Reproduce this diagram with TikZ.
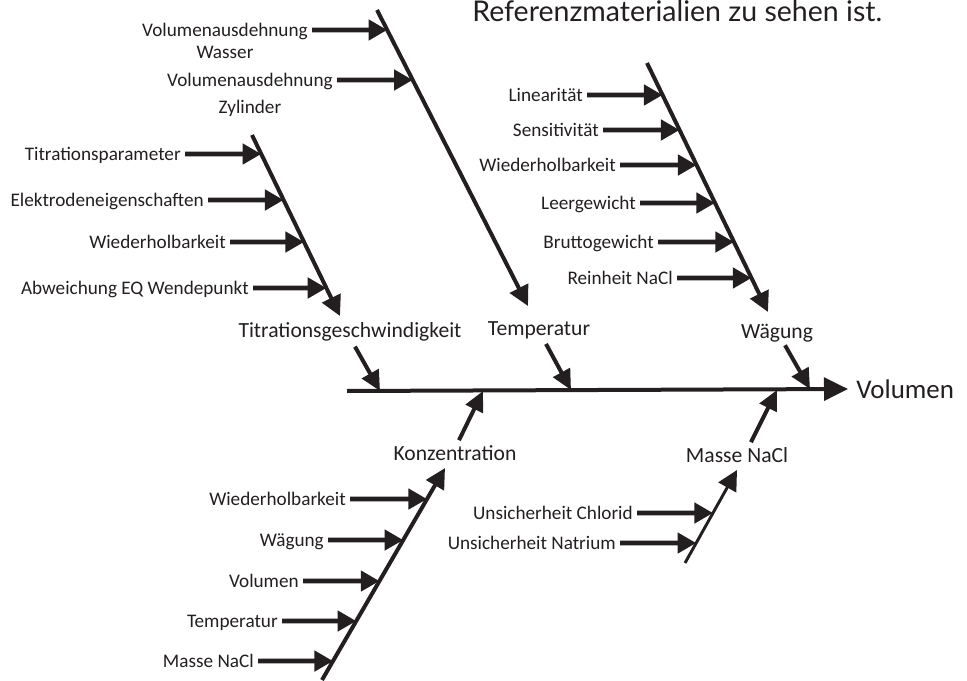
\documentclass[tikz,border=0pt]{standalone}
\usepackage{fontspec}
\setmainfont{Carlito}
\newfontfamily\notefont{Lato}
\usetikzlibrary{arrows.meta,positioning}
\definecolor{ink}{RGB}{35,31,32}

\begin{document}
\begin{tikzpicture}[x=0.75pt,y=-0.75pt,
    every node/.style={text=ink},
    cause/.style={anchor=east,font=\fontsize{14.4}{16}\selectfont,inner xsep=3pt,inner ysep=0pt,text height=13pt,text depth=3.2pt},
    sub/.style={anchor=north,font=\fontsize{14.4}{16}\selectfont,inner sep=0pt,text height=13pt,text depth=3.2pt},
    group/.style={font=\fontsize{16.2}{18}\selectfont,inner sep=0pt},
    feed/.style={draw=ink,line width=3.6pt,-{Triangle[length=14pt,width=15pt]}},
    bone/.style={draw=ink,line width=3pt,-{Triangle[length=15pt,width=15pt]}},
    link/.style={draw=ink,line width=3pt,-{Triangle[length=15pt,width=14pt]}}]
  \useasboundingbox (0,0) rectangle (967,681);

  % note text at the top
  \node[anchor=base west,font=\notefont\fontsize{21.4}{23}\selectfont,inner sep=0pt] (note) at (472,22) {Referenzmaterialien zu sehen ist.};

  % main spine
  \coordinate (sp0) at (347,391);
  \coordinate (sp1) at (848,389);
  \draw[draw=ink,line width=3pt,-{Triangle[length=18pt,width=17pt]}] (sp0) -- (sp1);
  \node[anchor=west,font=\fontsize{20.2}{22}\selectfont,inner sep=0pt,xshift=6pt] (vol) at (sp1) {Volumen};

  % where the groups meet the spine
  \coordinate (j1) at (380,391);
  \coordinate (j2) at (571,390);
  \coordinate (j3) at (810,389);
  \coordinate (j4) at (483,391);
  \coordinate (j5) at (777,390);

  % group labels
  \node[group] (titr) at (350,332) {Titrationsgeschwindigkeit};
  \node[group] (temp) at (539,330) {Temperatur};
  \node[group] (waeg) at (777,333) {Wägung};
  \node[group] (konz) at (455,453) {Konzentration};
  \node[group] (masse) at (737,455) {Masse NaCl};

  \draw[link] ([shift={(5,5)}]titr.south) -- (j1);
  \draw[link] ([shift={(7,5)}]temp.south) -- (j2);
  \draw[link] ([shift={(8,3)}]waeg.south) -- (j3);
  \draw[link] ([shift={(4,-5)}]konz.north) -- (j4);
  \draw[link] ([shift={(14,-5)}]masse.north) -- (j5);

  % bones
  \coordinate (b1s) at (252,135);  \coordinate (b1e) at (340,316);
  \coordinate (b2s) at (377,10);   \coordinate (b2e) at (528,306);
  \coordinate (b3s) at (647,63);   \coordinate (b3e) at (768,312);
  \coordinate (b4s) at (322,680);  \coordinate (b4e) at (445,468);
  \coordinate (b5s) at (685,563);  \coordinate (b5e) at (737,470);
  \draw[bone] (b1s) -- (b1e);
  \draw[bone] (b2s) -- (b2e);
  \draw[bone] (b3s) -- (b3e);
  \draw[bone] (b4s) -- (b4e);
  \draw[bone,line width=2.2pt] (b5s) -- (b5e);

  % Titrationsgeschwindigkeit
  \node[cause] (tpar) at (185,154) {Titrationsparameter};
  \node[cause] (elek) at (208,200) {Elektrodeneigenschaften};
  \node[cause] (wdh1) at (230,242) {Wiederholbarkeit};
  \node[cause] (abw) at (253,288) {Abweichung EQ Wendepunkt};
  \draw[feed] (tpar.east) -- (intersection of tpar.east--tpar.west and b1s--b1e);
  \draw[feed] (elek.east) -- (intersection of elek.east--elek.west and b1s--b1e);
  \draw[feed] (wdh1.east) -- (intersection of wdh1.east--wdh1.west and b1s--b1e);
  \draw[feed] (abw.east) -- (intersection of abw.east--abw.west and b1s--b1e);

  % Temperatur
  \node[cause] (vwas) at (312,30) {Volumenausdehnung};
  \node[sub] (wass) at (vwas.south) {Wasser};
  \node[cause] (vzyl) at (337,80) {Volumenausdehnung};
  \node[sub,yshift=-4pt] (zyl) at (vzyl.south) {Zylinder};
  \draw[feed] (vwas.east) -- (intersection of vwas.east--vwas.west and b2s--b2e);
  \draw[feed] (vzyl.east) -- (intersection of vzyl.east--vzyl.west and b2s--b2e);

  % Waegung
  \node[cause] (lin) at (587,95) {Linearität};
  \node[cause] (sens) at (603,130) {Sensitivität};
  \node[cause] (wdh2) at (620,165) {Wiederholbarkeit};
  \node[cause] (leer) at (640,203) {Leergewicht};
  \node[cause] (brut) at (658,242) {Bruttogewicht};
  \node[cause] (rein) at (677,278) {Reinheit NaCl};
  \draw[feed] (lin.east) -- (intersection of lin.east--lin.west and b3s--b3e);
  \draw[feed] (sens.east) -- (intersection of sens.east--sens.west and b3s--b3e);
  \draw[feed] (wdh2.east) -- (intersection of wdh2.east--wdh2.west and b3s--b3e);
  \draw[feed] (leer.east) -- (intersection of leer.east--leer.west and b3s--b3e);
  \draw[feed] (brut.east) -- (intersection of brut.east--brut.west and b3s--b3e);
  \draw[feed] (rein.east) -- (intersection of rein.east--rein.west and b3s--b3e);

  % Konzentration
  \node[cause] (wdh3) at (350,499) {Wiederholbarkeit};
  \node[cause] (wg) at (328,540) {Wägung};
  \node[cause] (vl) at (303,581) {Volumen};
  \node[cause] (tp) at (282,621) {Temperatur};
  \node[cause] (mn) at (258,661) {Masse NaCl};
  \draw[feed] (wdh3.east) -- (intersection of wdh3.east--wdh3.west and b4s--b4e);
  \draw[feed] (wg.east) -- (intersection of wg.east--wg.west and b4s--b4e);
  \draw[feed] (vl.east) -- (intersection of vl.east--vl.west and b4s--b4e);
  \draw[feed] (tp.east) -- (intersection of tp.east--tp.west and b4s--b4e);
  \draw[feed] (mn.east) -- (intersection of mn.east--mn.west and b4s--b4e);

  % Masse NaCl
  \node[cause] (ucl) at (637,513) {Unsicherheit Chlorid};
  \node[cause] (una) at (620,543) {Unsicherheit Natrium};
  \draw[feed] (ucl.east) -- (intersection of ucl.east--ucl.west and b5s--b5e);
  \draw[feed] (una.east) -- (intersection of una.east--una.west and b5s--b5e);
\end{tikzpicture}
\end{document}
